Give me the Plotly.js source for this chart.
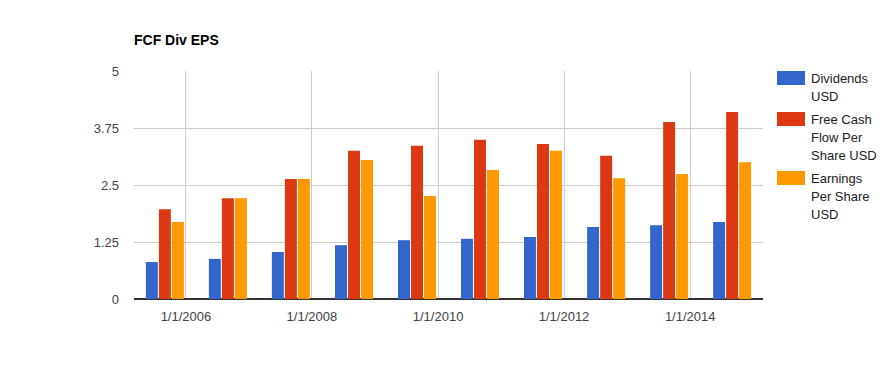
<!DOCTYPE html>
<html>
<head>
<meta charset="utf-8">
<script src="https://cdn.plot.ly/plotly-3.0.1.min.js"></script>
<style>
  html, body { margin: 0; padding: 0; background: #fff; }
  #chart { width: 896px; height: 371px; }
</style>
</head>
<body>
<div id="chart"></div>
<script>
// Data (fiscal period dates, values in USD)
const periods = ['2005-09-01','2006-09-01','2007-09-01','2008-09-01','2009-09-01',
                 '2010-09-01','2011-09-01','2012-09-01','2013-09-01','2014-09-01'];
const dividends = [0.81, 0.88, 1.03, 1.18, 1.29, 1.32, 1.36, 1.58, 1.62, 1.69];
const fcfPerShare = [1.97, 2.21, 2.63, 3.25, 3.36, 3.49, 3.40, 3.14, 3.88, 4.10];
const epsPerShare = [1.69, 2.21, 2.63, 3.05, 2.26, 2.83, 3.25, 2.65, 2.74, 3.00];

const seriesNames = ['Dividends USD', 'Free Cash Flow Per Share USD', 'Earnings Per Share USD'];
const legendLines = [['Dividends', 'USD'], ['Free Cash', 'Flow Per', 'Share USD'], ['Earnings', 'Per Share', 'USD']];
const seriesColors = ['#3366cc', '#dc3912', '#ff9900'];

const xTickVals = ['2006-01-01','2008-01-01','2010-01-01','2012-01-01','2014-01-01'];
const xTickText = ['1/1/2006','1/1/2008','1/1/2010','1/1/2012','1/1/2014'];
const yTickVals = [0, 1.25, 2.5, 3.75, 5];
const yTickText = ['0', '1.25', '2.5', '3.75', '5'];

const seriesValues = [dividends, fcfPerShare, epsPerShare];
const traces = seriesValues.map((vals, i) => ({
  type: 'bar',
  x: periods,
  y: vals,
  name: seriesNames[i],
  marker: { color: seriesColors[i], line: { width: 0 } },
  hoverinfo: 'x+y+name'
}));

// Plot area geometry (pixels) used to place the custom legend
const W = 896, H = 371;
const M = { l: 134, r: 133, t: 71, b: 72 };
const pw = W - M.l - M.r, ph = H - M.t - M.b;
const px2x = p => (p - M.l) / pw;
const px2y = p => (H - M.b - p) / ph;

const font = 'Arial, "Liberation Sans", sans-serif';

// Custom legend: swatch 28x14, lines 18px apart
const swatchTops = [71, 112, 171];
const shapes = [];
const annotations = [];
legendLines.forEach((lines, i) => {
  const top = swatchTops[i];
  shapes.push({
    type: 'rect', xref: 'paper', yref: 'paper',
    x0: px2x(777), x1: px2x(805), y0: px2y(top), y1: px2y(top + 14),
    fillcolor: seriesColors[i], line: { width: 0 }
  });
  lines.forEach((txt, j) => {
    annotations.push({
      xref: 'paper', yref: 'paper',
      x: px2x(809), xanchor: 'left',
      y: px2y(top + 7 + j * 18), yanchor: 'middle',
      text: txt, showarrow: false,
      font: { family: font, size: 13, color: '#222222' }
    });
  });
});

const layout = {
  width: W,
  height: H,
  margin: M,
  paper_bgcolor: '#ffffff',
  plot_bgcolor: '#ffffff',
  font: { family: font, size: 13, color: '#444444' },
  title: {
    text: '<b>FCF Div EPS</b>',
    font: { family: font, size: 14, color: '#000000' },
    x: 134 / W, xanchor: 'left', xref: 'container',
    y: 1 - 40 / H, yanchor: 'middle', yref: 'container'
  },
  barmode: 'group',
  bargap: 0.38,
  bargroupgap: 0.08,
  xaxis: {
    type: 'date',
    range: ['2005-03-06', '2015-02-27'],
    tickvals: xTickVals,
    ticktext: xTickText,
    showgrid: true,
    gridcolor: '#cccccc',
    gridwidth: 1,
    zeroline: false,
    showline: false,
    ticks: '',
    ticklabelstandoff: 8,
    tickfont: { family: font, size: 13, color: '#444444' }
  },
  yaxis: {
    range: [0, 5],
    tickvals: yTickVals,
    ticktext: yTickText,
    showgrid: true,
    gridcolor: '#cccccc',
    gridwidth: 1,
    zeroline: true,
    zerolinecolor: '#333333',
    zerolinewidth: 2,
    showline: false,
    ticks: '',
    ticklabelstandoff: 14,
    tickfont: { family: font, size: 13, color: '#444444' }
  },
  showlegend: false,
  shapes: shapes,
  annotations: annotations,
  hovermode: 'closest'
};

Plotly.newPlot('chart', traces, layout, { displayModeBar: false });
</script>
</body>
</html>
